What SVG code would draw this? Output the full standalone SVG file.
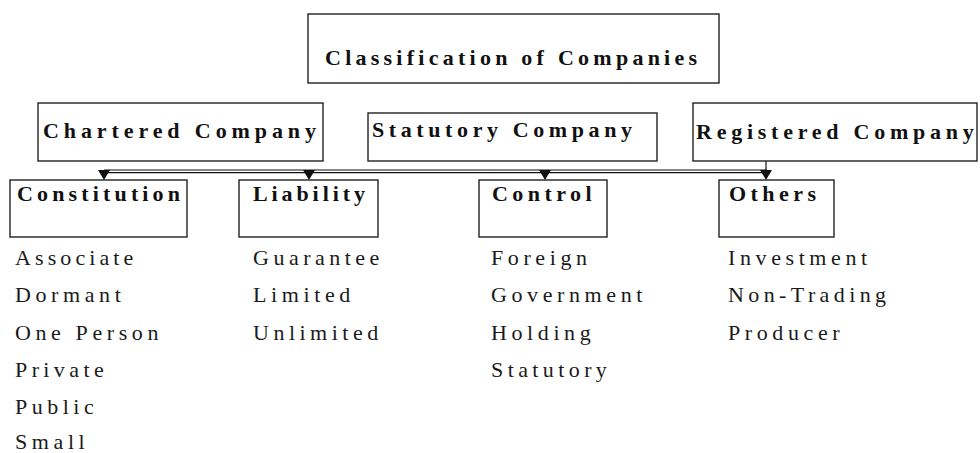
<svg xmlns="http://www.w3.org/2000/svg" width="980" height="453" viewBox="0 0 980 453">
<style>
rect{fill:#fff;stroke:#222;stroke-width:1.4}
.c{stroke:#111;stroke-width:1.2;fill:none}
.a{fill:#111}
</style>
<rect x="0" y="0" width="980" height="453" style="stroke:none"/>
<g id="connectors">
<line class="c" x1="104" y1="170" x2="767" y2="170"/>
<line class="c" x1="104" y1="172.6" x2="767" y2="172.6"/>
<line class="c" x1="766" y1="161" x2="766" y2="172"/>
<polygon class="a" points="98,170 110,170 104,180"/>
<polygon class="a" points="303,170 315,170 309,180"/>
<polygon class="a" points="539,170 551,170 545,180"/>
<polygon class="a" points="760,170 772,170 766,180"/>
</g>
<g id="classification">
<rect x="308" y="14" width="411" height="69"/>
<text x="325" y="65" font-family="Liberation Serif" font-size="22" font-weight="bold" fill="#111" letter-spacing="4.25">Classification of Companies</text>
</g>
<g id="chartered">
<rect x="38" y="103" width="285" height="58"/>
<text x="43" y="138" font-family="Liberation Serif" font-size="22" font-weight="bold" fill="#111" letter-spacing="4.9">Chartered Company</text>
</g>
<g id="statutory">
<rect x="368" y="113" width="289" height="48"/>
<text x="372" y="137" font-family="Liberation Serif" font-size="22" font-weight="bold" fill="#111" letter-spacing="4.6">Statutory Company</text>
</g>
<g id="registered">
<rect x="693" y="103" width="284" height="58"/>
<text x="696" y="139" font-family="Liberation Serif" font-size="22" font-weight="bold" fill="#111" letter-spacing="4.75">Registered Company</text>
</g>
<g id="constitution">
<rect x="10" y="180" width="177" height="57"/>
<text x="17" y="201" font-family="Liberation Serif" font-size="22" font-weight="bold" fill="#111" letter-spacing="4.15">Constitution</text>
</g>
<g id="liability">
<rect x="239" y="180" width="139" height="57"/>
<text x="253" y="201" font-family="Liberation Serif" font-size="22" font-weight="bold" fill="#111" letter-spacing="3.9">Liability</text>
</g>
<g id="control">
<rect x="479" y="180" width="128" height="57"/>
<text x="492" y="201" font-family="Liberation Serif" font-size="22" font-weight="bold" fill="#111" letter-spacing="4.45">Control</text>
</g>
<g id="others">
<rect x="719" y="180" width="115" height="57"/>
<text x="729" y="201" font-family="Liberation Serif" font-size="22" font-weight="bold" fill="#111" letter-spacing="4.45">Others</text>
</g>
<g id="constitution-list">
<text x="15" y="265" font-family="Liberation Serif" font-size="22" fill="#1a1a1a" letter-spacing="4.1">Associate</text>
<text x="15" y="302.3" font-family="Liberation Serif" font-size="22" fill="#1a1a1a" letter-spacing="4.6">Dormant</text>
<text x="15" y="339.6" font-family="Liberation Serif" font-size="22" fill="#1a1a1a" letter-spacing="4.6">One Person</text>
<text x="15" y="377" font-family="Liberation Serif" font-size="22" fill="#1a1a1a" letter-spacing="4.4">Private</text>
<text x="15" y="414.3" font-family="Liberation Serif" font-size="22" fill="#1a1a1a" letter-spacing="4.5">Public</text>
<text x="15" y="449" font-family="Liberation Serif" font-size="22" fill="#1a1a1a" letter-spacing="4.6">Small</text>
</g>
<g id="liability-list">
<text x="253" y="265" font-family="Liberation Serif" font-size="22" fill="#1a1a1a" letter-spacing="4.5">Guarantee</text>
<text x="253" y="302.3" font-family="Liberation Serif" font-size="22" fill="#1a1a1a" letter-spacing="4.6">Limited</text>
<text x="253" y="339.6" font-family="Liberation Serif" font-size="22" fill="#1a1a1a" letter-spacing="4.5">Unlimited</text>
</g>
<g id="control-list">
<text x="491" y="265" font-family="Liberation Serif" font-size="22" fill="#1a1a1a" letter-spacing="4.6">Foreign</text>
<text x="491" y="302.3" font-family="Liberation Serif" font-size="22" fill="#1a1a1a" letter-spacing="4.6">Government</text>
<text x="491" y="339.6" font-family="Liberation Serif" font-size="22" fill="#1a1a1a" letter-spacing="4.6">Holding</text>
<text x="491" y="377" font-family="Liberation Serif" font-size="22" fill="#1a1a1a" letter-spacing="4.4">Statutory</text>
</g>
<g id="others-list">
<text x="728" y="265" font-family="Liberation Serif" font-size="22" fill="#1a1a1a" letter-spacing="4.6">Investment</text>
<text x="728" y="302.3" font-family="Liberation Serif" font-size="22" fill="#1a1a1a" letter-spacing="4.4">Non-Trading</text>
<text x="728" y="339.6" font-family="Liberation Serif" font-size="22" fill="#1a1a1a" letter-spacing="4.6">Producer</text>
</g>
</svg>
